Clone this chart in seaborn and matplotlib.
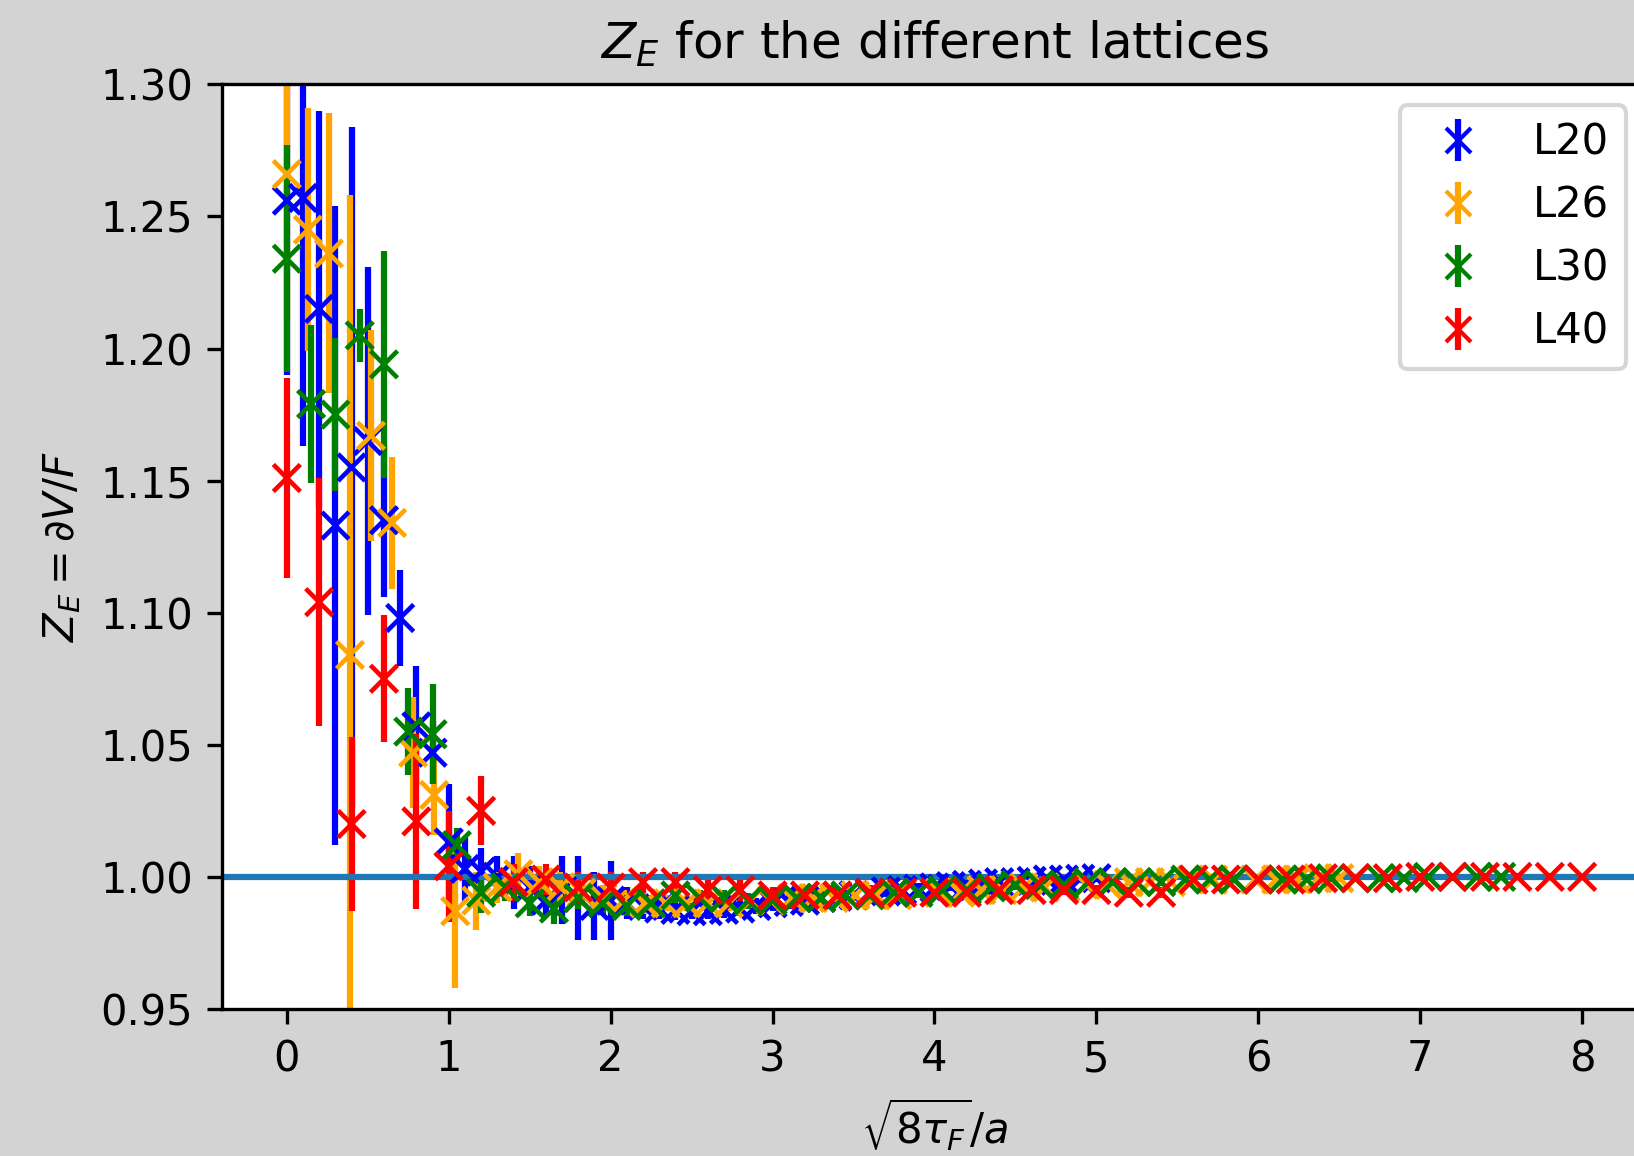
import numpy as np
import pandas as pd
import matplotlib
matplotlib.use("Agg")
import matplotlib.pyplot as plt
from matplotlib.lines import Line2D
from matplotlib.legend_handler import HandlerTuple
import seaborn as sns

# ---------------- data ----------------
lattices = ["L20", "L26", "L30", "L40"]
colors = ["blue", "orange", "green", "red"]

x_L20 = np.linspace(0.0, 5.0, 51)
x_L26 = np.linspace(0.0, 6.5, 51)
x_L30 = np.linspace(0.0, 7.5, 51)
x_L40 = np.linspace(0.0, 8.0, 41)

y_L20 = [1.256, 1.257, 1.215, 1.133, 1.155, 1.165, 1.135, 1.098, 1.057, 1.047,
         1.013, 1.003, 1.002, 1.000, 0.998, 0.996, 0.991, 0.995, 0.992, 0.989,
         0.991, 0.990, 0.989, 0.988, 0.9875, 0.987, 0.987, 0.9875, 0.988, 0.989,
         0.990, 0.9905, 0.991, 0.992, 0.9925, 0.993, 0.994, 0.9945, 0.995, 0.9955,
         0.996, 0.9965, 0.997, 0.9975, 0.998, 0.998, 0.9985, 0.999, 0.999, 0.9993,
         0.9995]
e_L20 = [0.066, 0.094, 0.075, 0.121, 0.129, 0.066, 0.029, 0.018, 0.023, 0.012,
         0.022, 0.012, 0.009, 0.008, 0.010, 0.008, 0.006, 0.013, 0.016, 0.013,
         0.015, 0.006, 0.005, 0.004, 0.004, 0.003, 0.003, 0.003, 0.003, 0.003,
         0.003, 0.0025, 0.0025, 0.0025, 0.0025, 0.002, 0.002, 0.002, 0.002, 0.002,
         0.002, 0.002, 0.0018, 0.0018, 0.0018, 0.0016, 0.0016, 0.0016, 0.0015, 0.0015,
         0.0015]

y_L26 = [1.266, 1.245, 1.236, 1.084, 1.167, 1.134, 1.047, 1.031, 0.987, 0.991,
         0.996, 1.001, 0.998, 0.996, 0.994, 0.992, 0.991, 0.990, 0.990, 0.990,
         0.990, 0.990, 0.991, 0.991, 0.992, 0.992, 0.992, 0.993, 0.993, 0.993,
         0.994, 0.994, 0.994, 0.995, 0.995, 0.996, 0.996, 0.996, 0.997, 0.997,
         0.998, 0.998, 0.998, 0.999, 0.999, 0.999, 0.999, 0.999, 0.999, 0.9995,
         0.9995]
e_L26 = [0.055, 0.046, 0.053, 0.174, 0.040, 0.025, 0.021, 0.015, 0.029, 0.011,
         0.006, 0.008, 0.006, 0.006, 0.005, 0.005, 0.004, 0.004, 0.003, 0.003,
         0.003, 0.003, 0.0025, 0.0025, 0.0025, 0.0025, 0.002, 0.002, 0.002, 0.002,
         0.002, 0.002, 0.002, 0.0018, 0.0018, 0.0018, 0.0016, 0.0016, 0.0016, 0.0015,
         0.0015, 0.0015, 0.0014, 0.0014, 0.0014, 0.0013, 0.0013, 0.0013, 0.0012, 0.0012,
         0.0012]

y_L30 = [1.234, 1.179, 1.175, 1.205, 1.194, 1.055, 1.054, 1.012, 0.994, 0.996,
         0.990, 0.988, 0.992, 0.990, 0.989, 0.990, 0.993, 0.992, 0.992, 0.991,
         0.991, 0.992, 0.992, 0.993, 0.993, 0.994, 0.994, 0.995, 0.995, 0.996,
         0.997, 0.997, 0.997, 0.998, 0.998, 0.998, 0.998, 0.999, 0.999, 0.999,
         0.999, 0.999, 0.999, 0.9995, 0.9995, 0.9995, 0.9995, 1.000, 1.000, 1.000,
         1.000]
e_L30 = [0.043, 0.030, 0.029, 0.010, 0.043, 0.0165, 0.019, 0.0065, 0.0075, 0.005,
         0.005, 0.006, 0.004, 0.004, 0.004, 0.003, 0.003, 0.003, 0.003, 0.003,
         0.0025, 0.0025, 0.0025, 0.0025, 0.002, 0.002, 0.002, 0.002, 0.002, 0.0018,
         0.0018, 0.0018, 0.0016, 0.0016, 0.0016, 0.0015, 0.0015, 0.0015, 0.0014, 0.0014,
         0.0014, 0.0013, 0.0013, 0.0013, 0.0012, 0.0012, 0.0012, 0.0012, 0.0011, 0.0011,
         0.0011]

y_L40 = [1.151, 1.104, 1.020, 1.075, 1.021, 1.004, 1.025, 0.998, 0.999, 0.996,
         0.996, 0.998, 0.998, 0.995, 0.995, 0.993, 0.993, 0.993, 0.994, 0.994,
         0.994, 0.994, 0.995, 0.995, 0.995, 0.995, 0.994, 0.994, 0.999, 0.999,
         0.999, 0.999, 0.9995, 0.9995, 0.9995, 1.000, 1.000, 1.000, 1.000, 1.000,
         1.000]
e_L40 = [0.038, 0.047, 0.033, 0.024, 0.033, 0.021, 0.013, 0.007, 0.006, 0.006,
         0.006, 0.004, 0.004, 0.004, 0.004, 0.003, 0.003, 0.003, 0.003, 0.003,
         0.0025, 0.0025, 0.0025, 0.0025, 0.002, 0.002, 0.002, 0.002, 0.002, 0.002,
         0.0018, 0.0018, 0.0016, 0.0016, 0.0015, 0.0015, 0.0014, 0.0014, 0.0013, 0.0013,
         0.0012]

xs = [x_L20, x_L26, x_L30, x_L40]
ys = [y_L20, y_L26, y_L30, y_L40]
es = [e_L20, e_L26, e_L30, e_L40]

df = pd.concat([pd.DataFrame({"x": x, "y": y, "err": e, "lattice": lab})
                for x, y, e, lab in zip(xs, ys, es, lattices)], ignore_index=True)

# ---------------- figure ----------------
fig = plt.figure(figsize=(1634 / 300, 1156 / 300), dpi=300, facecolor="lightgray")
ax = fig.add_axes([0.1359, 0.1272, 0.872, 0.7998])
ax.set_facecolor("white")

handles = []
for lab, col in zip(lattices, colors):
    sub = df[df["lattice"] == lab]
    eb = ax.errorbar(sub["x"], sub["y"], yerr=sub["err"], fmt="none",
                     ecolor=col, elinewidth=1.5, zorder=2)
    handles.append((eb, Line2D([], [], marker="x", ls="none", color=col,
                               markersize=6, markeredgewidth=1.0)))

ax.axhline(1.0, color="#1f77b4", lw=1.5, zorder=2.5)

sns.scatterplot(data=df, x="x", y="y", hue="lattice", hue_order=lattices,
                palette=dict(zip(lattices, colors)), marker="x", s=42,
                linewidth=1.1, legend=False, ax=ax, zorder=3)

ax.set_xlim(-0.4, 8.4)
ax.set_ylim(0.95, 1.30)
ax.set_xticks(range(0, 9))
ax.set_yticks([0.95, 1.00, 1.05, 1.10, 1.15, 1.20, 1.25, 1.30])
ax.set_yticklabels(["0.95", "1.00", "1.05", "1.10", "1.15", "1.20", "1.25", "1.30"])
ax.set_title(r"$Z_E$ for the different lattices", fontsize=12)
ax.set_xlabel(r"$\sqrt{8\tau_F}/a$", fontsize=10)
ax.set_ylabel(r"$Z_E = \partial V/F$", fontsize=10)
ax.tick_params(labelsize=10)

ax.legend(handles, lattices, loc="upper right",
          handler_map={tuple: HandlerTuple(ndivide=1)}, fontsize=10)

fig.savefig("out.png", dpi=300, facecolor=fig.get_facecolor())
